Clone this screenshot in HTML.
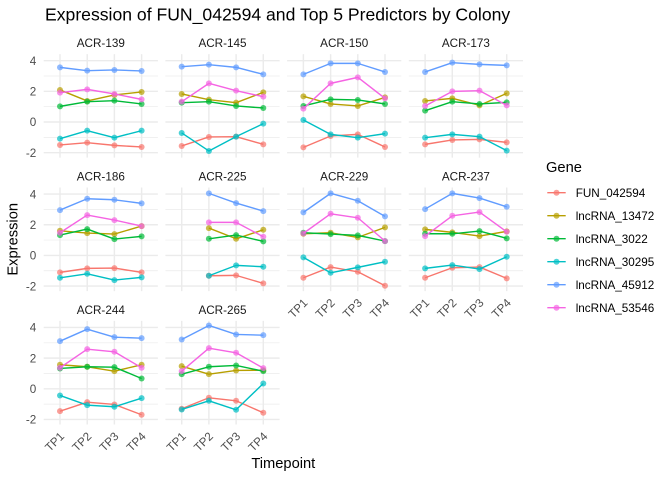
<!DOCTYPE html>
<html><head><meta charset="utf-8"><style>
body{margin:0;background:#fff}
svg{display:block}
text{font-family:"Liberation Sans",Arial,sans-serif}
.s{fill:none;stroke-width:1.42;stroke-linejoin:round}
.c1{stroke:#F8766D;marker-start:url(#m1);marker-mid:url(#m1);marker-end:url(#m1)}
.c2{stroke:#B79F00;marker-start:url(#m2);marker-mid:url(#m2);marker-end:url(#m2)}
.c3{stroke:#00BA38;marker-start:url(#m3);marker-mid:url(#m3);marker-end:url(#m3)}
.c4{stroke:#00BFC4;marker-start:url(#m4);marker-mid:url(#m4);marker-end:url(#m4)}
.c5{stroke:#619CFF;marker-start:url(#m5);marker-mid:url(#m5);marker-end:url(#m5)}
.c6{stroke:#F564E3;marker-start:url(#m6);marker-mid:url(#m6);marker-end:url(#m6)}
.st{font-size:11.7px;fill:#1A1A1A;text-anchor:middle}
.ay{font-size:11.7px;fill:#4D4D4D;text-anchor:end}
.lg{font-size:11.7px;fill:#000}
.k{fill:none;stroke-width:1.42}
</style></head><body>
<svg width="672" height="480" viewBox="0 0 672 480" xmlns="http://www.w3.org/2000/svg">
<defs>
<g id="g" fill="none" stroke="#EBEBEB">
<path stroke-width="0.71" d="M-16.3 15.33H97.9M-16.3 46H97.9M-16.3 76.67H97.9"/>
<path stroke-width="1.42" d="M-16.3 0H97.9M-16.3 30.67H97.9M-16.3 61.33H97.9M-16.3 92H97.9M0 -6.6V97M27.2 -6.6V97M54.4 -6.6V97M81.6 -6.6V97"/>
</g>
<marker id="m1" markerUnits="userSpaceOnUse" viewBox="-3.5 -3.5 7 7" markerWidth="7" markerHeight="7" overflow="visible"><circle r="3" fill="#F8766D" fill-opacity=".7"/></marker>
<marker id="m2" markerUnits="userSpaceOnUse" viewBox="-3.5 -3.5 7 7" markerWidth="7" markerHeight="7" overflow="visible"><circle r="3" fill="#B79F00" fill-opacity=".7"/></marker>
<marker id="m3" markerUnits="userSpaceOnUse" viewBox="-3.5 -3.5 7 7" markerWidth="7" markerHeight="7" overflow="visible"><circle r="3" fill="#00BA38" fill-opacity=".7"/></marker>
<marker id="m4" markerUnits="userSpaceOnUse" viewBox="-3.5 -3.5 7 7" markerWidth="7" markerHeight="7" overflow="visible"><circle r="3" fill="#00BFC4" fill-opacity=".7"/></marker>
<marker id="m5" markerUnits="userSpaceOnUse" viewBox="-3.5 -3.5 7 7" markerWidth="7" markerHeight="7" overflow="visible"><circle r="3" fill="#619CFF" fill-opacity=".7"/></marker>
<marker id="m6" markerUnits="userSpaceOnUse" viewBox="-3.5 -3.5 7 7" markerWidth="7" markerHeight="7" overflow="visible"><circle r="3" fill="#F564E3" fill-opacity=".7"/></marker>
</defs>

<text x="45" y="20.7" font-size="17.6" fill="#000">Expression of FUN_042594 and Top 5 Predictors by Colony</text>

<!-- Row 1 -->
<g transform="translate(60,60.67)">
<use href="#g"/>
<text class="st" x="40.8" y="-13.7">ACR-139</text>
<text class="ay" x="-23.7" y="4.2">4</text><text class="ay" x="-23.7" y="34.9">2</text><text class="ay" x="-23.7" y="65.5">0</text><text class="ay" x="-23.7" y="96.2">-2</text>
<polyline class="s c1" points="0,84.3 27.2,82 54.4,84.7 81.6,86.3"/>
<polyline class="s c2" points="0,29.3 27.2,40.3 54.4,34.3 81.6,31.3"/>
<polyline class="s c3" points="0,45.7 27.2,41 54.4,40 81.6,43.3"/>
<polyline class="s c4" points="0,78 27.2,70 54.4,77 81.6,70"/>
<polyline class="s c5" points="0,6.7 27.2,10 54.4,9.3 81.6,10.3"/>
<polyline class="s c6" points="0,32 27.2,28.7 54.4,33.3 81.6,38.7"/>
</g>
<g transform="translate(181.7,60.67)">
<use href="#g"/>
<text class="st" x="40.8" y="-13.7">ACR-145</text>
<polyline class="s c1" points="0,85.3 27.2,76.3 54.4,76 81.6,83.7"/>
<polyline class="s c2" points="0,33.3 27.2,39 54.4,42 81.6,31.7"/>
<polyline class="s c3" points="0,42 27.2,41 54.4,45.3 81.6,47.3"/>
<polyline class="s c4" points="0,72.3 27.2,90.3 54.4,76 81.6,63"/>
<polyline class="s c5" points="0,6 27.2,4 54.4,6.7 81.6,13.7"/>
<polyline class="s c6" points="0,41 27.2,22.7 54.4,30 81.6,36"/>
</g>
<g transform="translate(303.4,60.67)">
<use href="#g"/>
<text class="st" x="40.8" y="-13.7">ACR-150</text>
<polyline class="s c1" points="0,86.7 27.2,75.3 54.4,73.7 81.6,86.3"/>
<polyline class="s c2" points="0,35.7 27.2,43.3 54.4,45.3 81.6,36.7"/>
<polyline class="s c3" points="0,45.3 27.2,38.7 54.4,39.3 81.6,43.3"/>
<polyline class="s c4" points="0,59.3 27.2,73.7 54.4,77 81.6,73"/>
<polyline class="s c5" points="0,13.7 27.2,2.7 54.4,2.7 81.6,11.3"/>
<polyline class="s c6" points="0,48 27.2,22.7 54.4,16.7 81.6,37.7"/>
</g>
<g transform="translate(425.1,60.67)">
<use href="#g"/>
<text class="st" x="40.8" y="-13.7">ACR-173</text>
<polyline class="s c1" points="0,83.7 27.2,79.3 54.4,78.7 81.6,81.7"/>
<polyline class="s c2" points="0,40.3 27.2,37.7 54.4,44.7 81.6,32.7"/>
<polyline class="s c3" points="0,50 27.2,41 54.4,43.3 81.6,41.7"/>
<polyline class="s c4" points="0,77 27.2,73.7 54.4,76 81.6,90"/>
<polyline class="s c5" points="0,11.3 27.2,2 54.4,3.7 81.6,4.7"/>
<polyline class="s c6" points="0,45.3 27.2,30.7 54.4,30 81.6,44.7"/>
</g>

<!-- Row 2 -->
<g transform="translate(60,194.07)">
<use href="#g"/>
<text class="st" x="40.8" y="-13.7">ACR-186</text>
<text class="ay" x="-23.7" y="4.2">4</text><text class="ay" x="-23.7" y="34.9">2</text><text class="ay" x="-23.7" y="65.5">0</text><text class="ay" x="-23.7" y="96.2">-2</text>
<polyline class="s c1" points="0,78.3 27.2,74.3 54.4,74 81.6,78.3"/>
<polyline class="s c2" points="0,36.7 27.2,39 54.4,40 81.6,32"/>
<polyline class="s c3" points="0,41 27.2,35 54.4,45 81.6,42.3"/>
<polyline class="s c4" points="0,83.7 27.2,79.7 54.4,86 81.6,83.3"/>
<polyline class="s c5" points="0,16 27.2,4.7 54.4,5.7 81.6,9.3"/>
<polyline class="s c6" points="0,38.7 27.2,21 54.4,26 81.6,32"/>
</g>
<g transform="translate(181.7,194.07)">
<use href="#g"/>
<text class="st" x="40.8" y="-13.7">ACR-225</text>
<polyline class="s c1" points="27.2,81.7 54.4,81.3 81.6,89.3"/>
<polyline class="s c2" points="27.2,34 54.4,44.7 81.6,35.7"/>
<polyline class="s c3" points="27.2,44.7 54.4,41 81.6,47.3"/>
<polyline class="s c4" points="27.2,81.7 54.4,71.3 81.6,72.7"/>
<polyline class="s c5" points="27.2,-0.7 54.4,9 81.6,17"/>
<polyline class="s c6" points="27.2,28.3 54.4,28.3 81.6,42.7"/>
</g>
<g transform="translate(303.4,194.07)">
<use href="#g"/>
<text class="st" x="40.8" y="-13.7">ACR-229</text>
<polyline class="s c1" points="0,83.7 27.2,73 54.4,77.7 81.6,91.7"/>
<polyline class="s c2" points="0,39.7 27.2,38.7 54.4,43.3 81.6,33.3"/>
<polyline class="s c3" points="0,38.7 27.2,40 54.4,41.3 81.6,47"/>
<polyline class="s c4" points="0,63.3 27.2,78.7 54.4,73.3 81.6,67.7"/>
<polyline class="s c5" points="0,18.3 27.2,-0.7 54.4,6.7 81.6,22.3"/>
<polyline class="s c6" points="0,39.3 27.2,19.7 54.4,23.7 81.6,47"/>
<g class="ay">
<text transform="rotate(-45 5 109.5)" x="5" y="109.5">TP1</text>
<text transform="rotate(-45 32.2 109.5)" x="32.2" y="109.5">TP2</text>
<text transform="rotate(-45 59.4 109.5)" x="59.4" y="109.5">TP3</text>
<text transform="rotate(-45 86.6 109.5)" x="86.6" y="109.5">TP4</text>
</g>
</g>
<g transform="translate(425.1,194.07)">
<use href="#g"/>
<text class="st" x="40.8" y="-13.7">ACR-237</text>
<polyline class="s c1" points="0,83.7 27.2,73.7 54.4,73 81.6,84.3"/>
<polyline class="s c2" points="0,35.3 27.2,38.3 54.4,42 81.6,37.3"/>
<polyline class="s c3" points="0,39.7 27.2,39.7 54.4,37 81.6,44.3"/>
<polyline class="s c4" points="0,74.3 27.2,71 54.4,75 81.6,62.7"/>
<polyline class="s c5" points="0,15 27.2,-0.7 54.4,4 81.6,12.7"/>
<polyline class="s c6" points="0,42 27.2,21.7 54.4,18 81.6,37.7"/>
<g class="ay">
<text transform="rotate(-45 5 109.5)" x="5" y="109.5">TP1</text>
<text transform="rotate(-45 32.2 109.5)" x="32.2" y="109.5">TP2</text>
<text transform="rotate(-45 59.4 109.5)" x="59.4" y="109.5">TP3</text>
<text transform="rotate(-45 86.6 109.5)" x="86.6" y="109.5">TP4</text>
</g>
</g>

<!-- Row 3 -->
<g transform="translate(60,327.47)">
<use href="#g"/>
<text class="st" x="40.8" y="-13.7">ACR-244</text>
<text class="ay" x="-23.7" y="4.2">4</text><text class="ay" x="-23.7" y="34.9">2</text><text class="ay" x="-23.7" y="65.5">0</text><text class="ay" x="-23.7" y="96.2">-2</text>
<polyline class="s c1" points="0,83.7 27.2,74.7 54.4,77 81.6,87.3"/>
<polyline class="s c2" points="0,37.3 27.2,39.3 54.4,43.7 81.6,37.3"/>
<polyline class="s c3" points="0,41 27.2,39.3 54.4,39.7 81.6,51"/>
<polyline class="s c4" points="0,68 27.2,77.7 54.4,79.3 81.6,70.7"/>
<polyline class="s c5" points="0,13.7 27.2,1.7 54.4,9.7 81.6,10.7"/>
<polyline class="s c6" points="0,40.3 27.2,21.7 54.4,24.3 81.6,40.3"/>
<g class="ay">
<text transform="rotate(-45 5 109.5)" x="5" y="109.5">TP1</text>
<text transform="rotate(-45 32.2 109.5)" x="32.2" y="109.5">TP2</text>
<text transform="rotate(-45 59.4 109.5)" x="59.4" y="109.5">TP3</text>
<text transform="rotate(-45 86.6 109.5)" x="86.6" y="109.5">TP4</text>
</g>
</g>
<g transform="translate(181.7,327.47)">
<use href="#g"/>
<text class="st" x="40.8" y="-13.7">ACR-265</text>
<polyline class="s c1" points="0,81.3 27.2,70.3 54.4,73.3 81.6,85.3"/>
<polyline class="s c2" points="0,38.7 27.2,46.7 54.4,43 81.6,42.7"/>
<polyline class="s c3" points="0,46.7 27.2,39.3 54.4,38 81.6,43.7"/>
<polyline class="s c4" points="0,82 27.2,73.3 54.4,82.3 81.6,56"/>
<polyline class="s c5" points="0,12 27.2,-2 54.4,7 81.6,7.7"/>
<polyline class="s c6" points="0,43.7 27.2,20.7 54.4,25.3 81.6,40.7"/>
<g class="ay">
<text transform="rotate(-45 5 109.5)" x="5" y="109.5">TP1</text>
<text transform="rotate(-45 32.2 109.5)" x="32.2" y="109.5">TP2</text>
<text transform="rotate(-45 59.4 109.5)" x="59.4" y="109.5">TP3</text>
<text transform="rotate(-45 86.6 109.5)" x="86.6" y="109.5">TP4</text>
</g>
</g>

<!-- Axis titles -->
<text x="283.3" y="468.2" font-size="14.7" text-anchor="middle" fill="#000">Timepoint</text>
<text transform="rotate(-90 17.5 239.3)" x="17.5" y="239.3" font-size="14.7" text-anchor="middle" fill="#000">Expression</text>

<!-- Legend -->
<text x="546" y="172" font-size="14.7" fill="#000">Gene</text>
<g>
<path class="k" stroke="#F8766D" d="M547.3 192.7H565.7"/><circle cx="556.5" cy="192.7" r="3" fill="#F8766D" fill-opacity=".7"/>
<path class="k" stroke="#B79F00" d="M547.3 215.7H565.7"/><circle cx="556.5" cy="215.7" r="3" fill="#B79F00" fill-opacity=".7"/>
<path class="k" stroke="#00BA38" d="M547.3 238.7H565.7"/><circle cx="556.5" cy="238.7" r="3" fill="#00BA38" fill-opacity=".7"/>
<path class="k" stroke="#00BFC4" d="M547.3 261.7H565.7"/><circle cx="556.5" cy="261.7" r="3" fill="#00BFC4" fill-opacity=".7"/>
<path class="k" stroke="#619CFF" d="M547.3 284.7H565.7"/><circle cx="556.5" cy="284.7" r="3" fill="#619CFF" fill-opacity=".7"/>
<path class="k" stroke="#F564E3" d="M547.3 307.7H565.7"/><circle cx="556.5" cy="307.7" r="3" fill="#F564E3" fill-opacity=".7"/>
</g>
<text class="lg" x="575.7" y="196.9">FUN_042594</text>
<text class="lg" x="575.7" y="219.9">lncRNA_13472</text>
<text class="lg" x="575.7" y="242.9">lncRNA_3022</text>
<text class="lg" x="575.7" y="265.9">lncRNA_30295</text>
<text class="lg" x="575.7" y="288.9">lncRNA_45912</text>
<text class="lg" x="575.7" y="311.9">lncRNA_53546</text>
</svg>
</body></html>
